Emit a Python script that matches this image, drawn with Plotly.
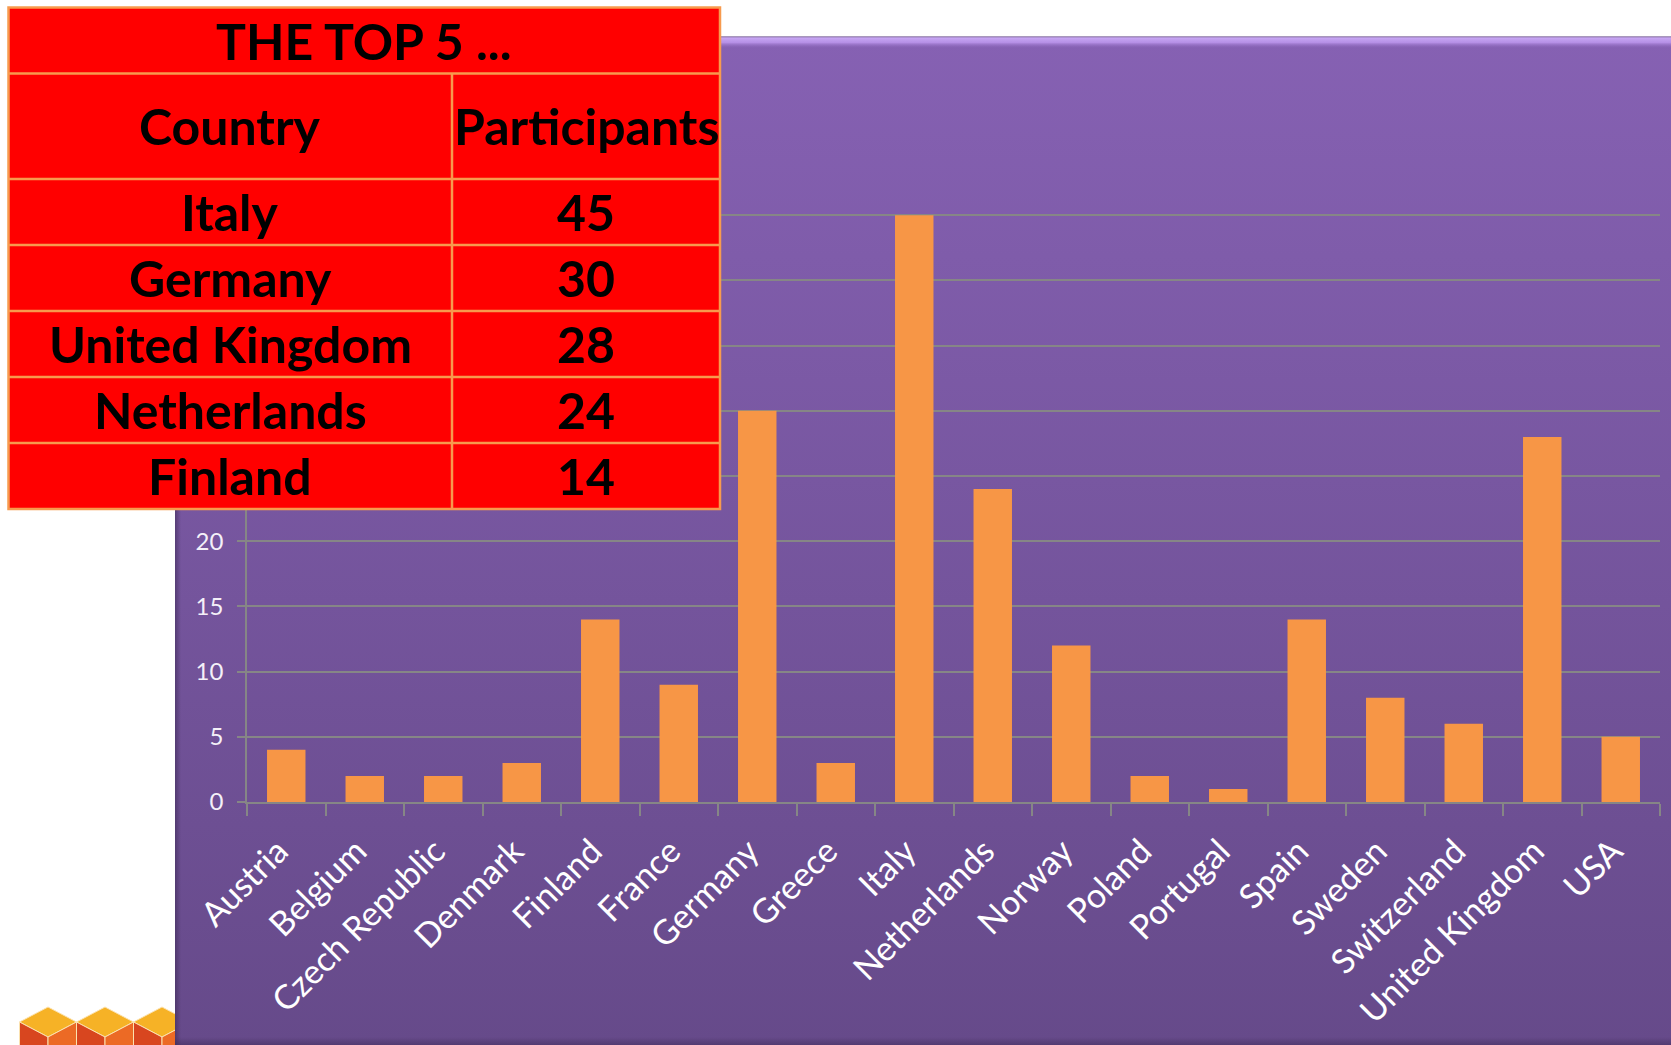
import base64
import plotly.graph_objects as go

# ---------------- data ----------------
countries = ["Austria", "Belgium", "Czech Republic", "Denmark", "Finland", "France",
             "Germany", "Greece", "Italy", "Netherlands", "Norway", "Poland",
             "Portugal", "Spain", "Sweden", "Switzerland", "United Kingdom", "USA"]
participants = [4, 2, 2, 3, 14, 9, 30, 3, 45, 24, 12, 2, 1, 14, 8, 6, 28, 5]
y_ticks = [0, 5, 10, 15, 20, 25, 30, 35, 40, 45, 50]
# labels 25..50 sit underneath the overlaid table in the original slide
y_tick_labels = ["0", "5", "10", "15", "20", "", "", "", "", "", ""]

table_title = "THE TOP 5 ..."
table_header = ["Country", "Participants"]
top5_countries = ["Italy", "Germany", "United Kingdom", "Netherlands", "Finland"]
top5_participants = [45, 30, 28, 24, 14]

# ---------------- layout geometry ----------------
W, H = 1671, 1045
ML, MR, MT, MB = 247, 11, 150, 243
PW, PH = W - ML - MR, H - MT - MB


def px(x):
    return (x - ML) / PW


def py(y):
    return 1 - (y - MT) / PH


# ---------------- background (slide) ----------------
cubes = ""
for cx in (48, 105, 162):
    w, y0, y1, y2 = 28.5, 1007, 1022, 1037
    cubes += (f"<path d='M{cx-w},{y1} L{cx},{y0} L{cx+w},{y1} L{cx},{y2} Z' fill='#F6B226' stroke='#FBE2B0' stroke-width='1'/>"
              f"<path d='M{cx-w},{y1} L{cx},{y2} L{cx},1046 L{cx-w},1046 Z' fill='#D8461F' stroke='#FBE2B0' stroke-width='1'/>"
              f"<path d='M{cx},{y2} L{cx+w},{y1} L{cx+w},1046 L{cx},1046 Z' fill='#EC6A25' stroke='#FBE2B0' stroke-width='1'/>")

svg = f"""<svg xmlns='http://www.w3.org/2000/svg' width='{W}' height='{H}' viewBox='0 0 {W} {H}'>
<defs>
<linearGradient id='g' x1='0' y1='0' x2='0' y2='1'>
<stop offset='0' stop-color='#8661B3'/><stop offset='1' stop-color='#664A8A'/>
</linearGradient>
<linearGradient id='b' x1='0' y1='0' x2='0' y2='1'>
<stop offset='0' stop-color='#C8A8F4'/><stop offset='0.45' stop-color='#B690E6'/>
<stop offset='1' stop-color='#8661B3' stop-opacity='0'/>
</linearGradient>
<linearGradient id='s' x1='0' y1='0' x2='1' y2='0'>
<stop offset='0' stop-color='#3A2852' stop-opacity='0.55'/><stop offset='1' stop-color='#3A2852' stop-opacity='0'/>
</linearGradient>
<linearGradient id='d' x1='0' y1='0' x2='0' y2='1'>
<stop offset='0' stop-color='#3A2852' stop-opacity='0'/><stop offset='1' stop-color='#3A2852' stop-opacity='0.45'/>
</linearGradient>
</defs>
<rect width='{W}' height='{H}' fill='white'/>
{cubes}
<rect x='175' y='36' width='1496' height='1009' fill='url(#g)'/>
<rect x='175' y='36' width='1496' height='1.5' fill='#A897BC'/>
<rect x='175' y='37.5' width='1496' height='11' fill='url(#b)'/>
<rect x='175' y='36' width='6' height='1009' fill='url(#s)'/>
<rect x='175' y='1037' width='1496' height='8' fill='url(#d)'/>
</svg>"""
bg_src = "data:image/svg+xml;base64," + base64.b64encode(svg.encode()).decode()

# ---------------- figure ----------------
fig = go.Figure()
fig.add_trace(go.Bar(
    x=countries, y=participants,
    marker=dict(color="#F79646", line=dict(width=0)),
    hoverinfo="x+y",
))

GRID = "#868686"
fig.update_layout(
    width=W, height=H,
    margin=dict(l=ML, r=MR, t=MT, b=MB, pad=0, autoexpand=False),
    paper_bgcolor="white",
    plot_bgcolor="rgba(0,0,0,0)",
    showlegend=False,
    bargap=0.51,
    font=dict(family="Lato, 'Open Sans', sans-serif", color="white"),
    xaxis=dict(
        type="category", range=[-0.5, len(countries) - 0.5],
        tickangle=-45, tickfont=dict(size=34, color="white"),
        showgrid=False, showline=True, linecolor=GRID, linewidth=1.5,
        ticks="outside", ticklen=12, tickwidth=1.5, tickcolor=GRID,
        tickson="boundaries", zeroline=False,
        ticklabelstandoff=14, ticklabelshift=-8,
    ),
    yaxis=dict(
        range=[0, 50], tickvals=y_ticks, ticktext=y_tick_labels,
        tickfont=dict(size=24, color="#F4F0F8"),
        showgrid=True, gridcolor=GRID, gridwidth=1.5,
        showline=True, linecolor=GRID, linewidth=1.5,
        ticks="outside", ticklen=8, tickwidth=1.5, tickcolor=GRID,
        zeroline=False, ticklabelstandoff=9,
    ),
    images=[dict(source=bg_src, xref="paper", yref="paper",
                 x=px(0), y=py(0), sizex=W / PW, sizey=H / PH,
                 xanchor="left", yanchor="top", sizing="stretch", layer="below")],
)

# ---------------- "top 5" table overlay ----------------
TL, TR, TC = 8.5, 720, 452
row_edges = [7.5, 73.5, 179, 245, 311, 377, 443, 509]
BORDER = "#F79A4E"
shapes = [dict(type="rect", xref="paper", yref="paper",
               x0=px(TL), x1=px(TR), y0=py(row_edges[-1]), y1=py(row_edges[0]),
               fillcolor="#FF0000", line=dict(color=BORDER, width=2.5), layer="above")]
for ye in row_edges[1:-1]:
    shapes.append(dict(type="line", xref="paper", yref="paper",
                       x0=px(TL), x1=px(TR), y0=py(ye), y1=py(ye),
                       line=dict(color=BORDER, width=2.5), layer="above"))
shapes.append(dict(type="line", xref="paper", yref="paper",
                   x0=px(TC), x1=px(TC), y0=py(row_edges[1]), y1=py(row_edges[-1]),
                   line=dict(color=BORDER, width=2.5), layer="above"))

TFONT = dict(family="Lato, 'Open Sans', sans-serif", size=50, color="black", weight="bold")
annotations = []


def cell(text, x0, x1, y0, y1):
    annotations.append(dict(text=text, xref="paper", yref="paper",
                            x=px((x0 + x1) / 2), y=py((y0 + y1) / 2),
                            xanchor="center", yanchor="middle", showarrow=False,
                            font=TFONT))


cell(table_title, TL, TR, row_edges[0], row_edges[1])
cell(table_header[0], TL, TC, row_edges[1], row_edges[2])
cell(table_header[1], TC, TR, row_edges[1], row_edges[2])
for i, (c, v) in enumerate(zip(top5_countries, top5_participants)):
    cell(c, TL, TC, row_edges[i + 2], row_edges[i + 3])
    cell(str(v), TC, TR, row_edges[i + 2], row_edges[i + 3])

fig.update_layout(shapes=shapes, annotations=annotations)
fig.write_html("out.html",
               config={"displayModeBar": False},
               post_script="document.body.style.margin='0';document.body.style.overflow='hidden';")
